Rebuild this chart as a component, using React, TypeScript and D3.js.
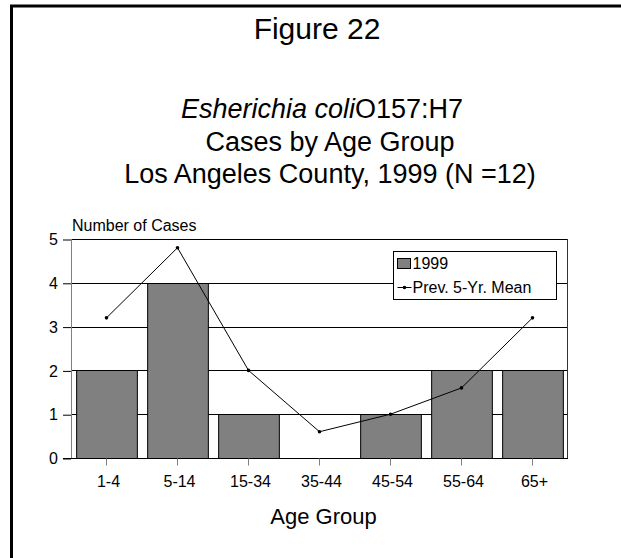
import React, { useEffect, useRef } from 'react';
import * as d3 from 'd3';

// chart values
const ageGroups = ['1-4', '5-14', '15-34', '35-44', '45-54', '55-64', '65+'];
const cases1999 = [2, 4, 1, 0, 1, 2, 2];
const prevMean = [3.2, 4.8, 2.0, 0.6, 1.0, 1.6, 3.2];
const yTicks = [0, 1, 2, 3, 4, 5];
const titleLines = ['Cases by Age Group', 'Los Angeles County, 1999 (N =12)'];
const legendLabels = ['1999', 'Prev. 5-Yr. Mean'];

const FONT = "'Liberation Sans', Arial, Helvetica, sans-serif";

export default function App() {
  const ref = useRef<SVGSVGElement | null>(null);

  useEffect(() => {
    const svg = d3.select(ref.current);
    svg.selectAll('*').remove();

    const width = 621;
    const height = 558;
    const left = 71;
    const right = 568;
    const top = 239;
    const bottom = 458;

    svg.attr('width', width).attr('height', height).style('font-family', FONT);
    svg.append('rect').attr('width', width).attr('height', height).attr('fill', '#fff');

    // frame (left and top only)
    svg.append('path')
      .attr('d', 'M11.5,' + height + ' L11.5,6 L' + width + ',6')
      .attr('fill', 'none')
      .attr('stroke', '#000')
      .attr('stroke-width', 3);

    // titles
    svg.append('text')
      .attr('x', 317).attr('y', 39)
      .attr('text-anchor', 'middle')
      .attr('font-size', 30)
      .text('Figure 22');

    const sub = svg.append('text')
      .attr('x', 322).attr('y', 118)
      .attr('text-anchor', 'middle')
      .attr('font-size', 27);
    sub.append('tspan').attr('font-style', 'italic').text('Esherichia coli');
    sub.append('tspan').text('O157:H7');

    titleLines.forEach((t, i) => {
      svg.append('text')
        .attr('x', 330).attr('y', 151 + i * 32)
        .attr('text-anchor', 'middle')
        .attr('font-size', 27)
        .text(t);
    });

    const x = d3.scaleBand()
      .domain(ageGroups)
      .range([left, right])
      .paddingInner(0.145)
      .paddingOuter(0.0725);
    const y = d3.scaleLinear().domain([0, 5]).range([bottom, top]);

    // gridlines
    svg.append('g')
      .selectAll('line')
      .data(yTicks.filter((d) => d > 0))
      .enter().append('line')
      .attr('x1', left).attr('x2', right - 1)
      .attr('y1', (d) => Math.round(y(d)) + 0.5)
      .attr('y2', (d) => Math.round(y(d)) + 0.5)
      .attr('stroke', '#000');

    // y axis
    const yAxis = svg.append('g')
      .attr('transform', 'translate(' + left + ',0.5)')
      .call(d3.axisLeft(y).tickValues(yTicks).tickFormat(d3.format('d')).tickSize(8).tickPadding(5));
    yAxis.select('.domain').remove();
    yAxis.selectAll('text').attr('font-size', 16).attr('font-family', FONT).attr('fill', '#000');
    yAxis.selectAll('line').attr('stroke', '#000');

    // bars
    svg.append('g')
      .selectAll('rect')
      .data(cases1999)
      .enter().append('rect')
      .attr('x', (d, i) => (x(ageGroups[i]) as number) + 0.5)
      .attr('y', (d) => Math.round(y(d)) + 0.5)
      .attr('width', x.bandwidth())
      .attr('height', (d) => Math.round(y(0)) - Math.round(y(d)))
      .attr('fill', '#808080')
      .attr('stroke', '#000')
      .attr('stroke-width', 1);

    // plot sides
    svg.append('line')
      .attr('x1', left + 0.5).attr('x2', left + 0.5)
      .attr('y1', top).attr('y2', bottom)
      .attr('stroke', '#808080');
    svg.append('line')
      .attr('x1', right - 0.5).attr('x2', right - 0.5)
      .attr('y1', top).attr('y2', bottom)
      .attr('stroke', '#333');
    svg.append('line')
      .attr('x1', left - 8).attr('x2', right)
      .attr('y1', Math.round(y(0)) + 0.5).attr('y2', Math.round(y(0)) + 0.5)
      .attr('stroke', '#000');

    // x axis
    const xAxis = svg.append('g')
      .attr('transform', 'translate(0,' + (Math.round(y(0)) + 0.5) + ')')
      .call(d3.axisBottom(x).tickSize(7).tickPadding(10));
    xAxis.select('.domain').remove();
    xAxis.selectAll('text').attr('font-size', 16).attr('font-family', FONT).attr('fill', '#000').attr('dx', 2);
    xAxis.selectAll('line').attr('stroke', '#808080');

    // previous 5-year mean line
    const line = d3.line<number>()
      .x((d, i) => (x(ageGroups[i]) as number) + x.bandwidth() / 2)
      .y((d) => y(d));
    svg.append('path')
      .datum(prevMean)
      .attr('d', line)
      .attr('fill', 'none')
      .attr('stroke', '#000')
      .attr('stroke-width', 1);
    svg.append('g')
      .selectAll('circle')
      .data(prevMean)
      .enter().append('circle')
      .attr('cx', (d, i) => (x(ageGroups[i]) as number) + x.bandwidth() / 2)
      .attr('cy', (d) => y(d))
      .attr('r', 1.8)
      .attr('fill', '#000');

    // axis titles
    svg.append('text')
      .attr('x', 72).attr('y', 231)
      .attr('font-size', 16)
      .text('Number of Cases');
    svg.append('text')
      .attr('x', (left + right) / 2 + 4).attr('y', 524)
      .attr('text-anchor', 'middle')
      .attr('font-size', 22)
      .text('Age Group');

    // legend
    const lg = svg.append('g').attr('transform', 'translate(393.5,251.5)');
    lg.append('rect')
      .attr('width', 163).attr('height', 48)
      .attr('fill', '#fff')
      .attr('stroke', '#000');
    lg.append('rect')
      .attr('x', 4).attr('y', 7)
      .attr('width', 13).attr('height', 10)
      .attr('fill', '#808080')
      .attr('stroke', '#000');
    lg.append('line')
      .attr('x1', 4).attr('x2', 18)
      .attr('y1', 36).attr('y2', 36)
      .attr('stroke', '#000');
    lg.append('circle').attr('cx', 11).attr('cy', 36).attr('r', 1.8).attr('fill', '#000');
    legendLabels.forEach((t, i) => {
      lg.append('text')
        .attr('x', 19).attr('y', 17.5 + i * 24)
        .attr('font-size', 16)
        .text(t);
    });
  }, []);

  return (
    <div style={{ position: 'absolute', left: 0, top: 0 }}>
      <svg ref={ref}></svg>
    </div>
  );
}
